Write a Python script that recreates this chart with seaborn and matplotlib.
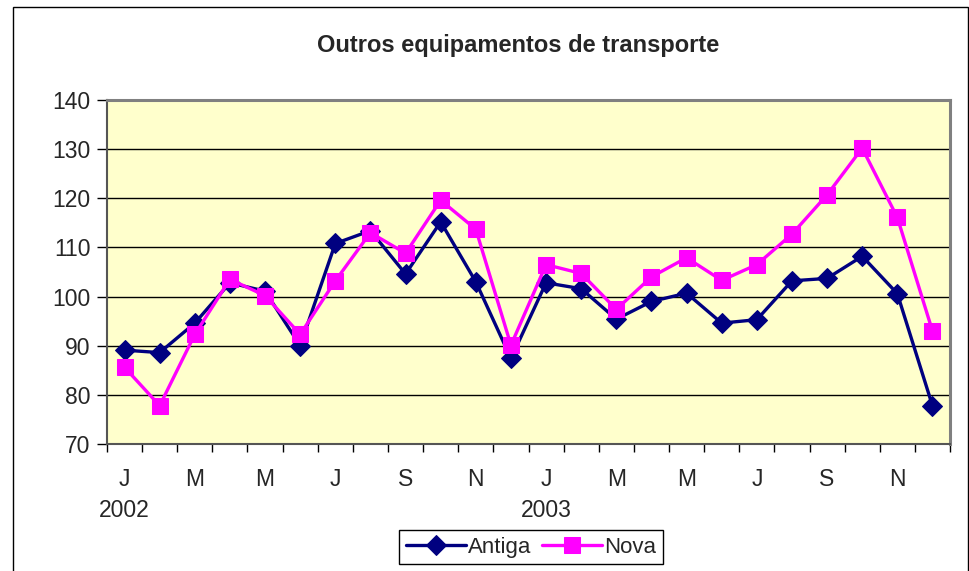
import matplotlib
matplotlib.use("Agg")
import matplotlib.pyplot as plt
from matplotlib.patches import Rectangle
import numpy as np
import pandas as pd
import seaborn as sns

# monthly series, Jan 2002 .. Dec 2003
months = ["J", "F", "M", "A", "M", "J", "J", "A", "S", "O", "N", "D"] * 2
years = ["2002"] * 12 + ["2003"] * 12
antiga = [89.1, 88.6, 94.6, 102.8, 101.1, 90.0, 110.8, 113.4, 104.6, 115.2, 103.0, 87.4,
          102.8, 101.6, 95.4, 99.0, 100.7, 94.6, 95.3, 103.2, 103.7, 108.2, 100.6, 77.8]
nova = [85.6, 77.8, 92.3, 103.5, 100.2, 92.3, 103.2, 113.0, 108.8, 119.6, 113.7, 90.1,
        106.5, 104.7, 97.4, 104.0, 107.9, 103.3, 106.5, 112.7, 120.7, 130.2, 116.1, 93.0]

df = pd.DataFrame({"idx": np.arange(24), "Antiga": antiga, "Nova": nova})

sns.set_style("white")
plt.rcParams["font.family"] = ["Liberation Sans", "DejaVu Sans"]

fig = plt.figure(figsize=(9.7, 5.71), dpi=100)
ax = fig.add_axes([0.1103, 0.2224, 0.8691, 0.6025])
ax.set_facecolor("#FFFFCC")

sns.lineplot(data=df, x="idx", y="Antiga", ax=ax, color="#000080", linewidth=2.4,
             marker="D", markersize=10, markeredgecolor="#000080", label="Antiga")
sns.lineplot(data=df, x="idx", y="Nova", ax=ax, color="#FF00FF", linewidth=2.4,
             marker="s", markersize=11, markeredgecolor="#FF00FF", label="Nova")

ax.set_ylim(70, 140)
ax.set_xlim(-0.5, 23.5)
ax.set_yticks(np.arange(70, 141, 10))
ax.yaxis.grid(True, color="black", linewidth=1)
ax.xaxis.grid(False)
ax.set_axisbelow(True)
ax.tick_params(axis="y", which="major", length=7, width=1, color="black",
               labelsize=16.5, pad=5, left=True)

# boundary ticks (no labels) + month labels at every second month
ax.set_xticks(np.arange(-0.5, 24, 1))
ax.set_xticklabels([])
ax.tick_params(axis="x", which="major", length=6, width=1, color="black", bottom=True)
lab_pos = np.arange(0, 24, 2)
labels = []
for i in lab_pos:
    if i % 12 == 0:
        labels.append(months[i] + "\n" + years[i])
    else:
        labels.append(months[i] + "\n")
ax.set_xticks(lab_pos, minor=True)
ax.set_xticklabels(labels, minor=True, fontsize=16.5, linespacing=1.45, va="top")
ax.tick_params(axis="x", which="minor", length=0, pad=17)

ax.set_xlabel("")
ax.set_ylabel("")
for s in ["top", "right"]:
    ax.spines[s].set_color("#808080")
    ax.spines[s].set_linewidth(2.2)
for s in ["left", "bottom"]:
    ax.spines[s].set_color("#555555")
    ax.spines[s].set_linewidth(1.5)

ax.legend_.remove()
handles, labs = ax.get_legend_handles_labels()
fig.legend(handles, labs, loc="upper center", bbox_to_anchor=(0.5475, 1 - 530 / 571), ncol=2,
           fontsize=16, frameon=True, fancybox=False, edgecolor="black",
           handlelength=2.7, handletextpad=0.1, columnspacing=0.5,
           borderpad=0.3, borderaxespad=0, framealpha=1)

fig.text(0.534, 0.92, "Outros equipamentos de transporte", ha="center", va="center",
         fontsize=17, fontweight="bold")

fig.patches.append(Rectangle((0.0134, -0.02), 0.9845, 0.9877 + 0.02,
                             transform=fig.transFigure, fill=False,
                             edgecolor="black", linewidth=1))

fig.savefig("out.png", dpi=100)
